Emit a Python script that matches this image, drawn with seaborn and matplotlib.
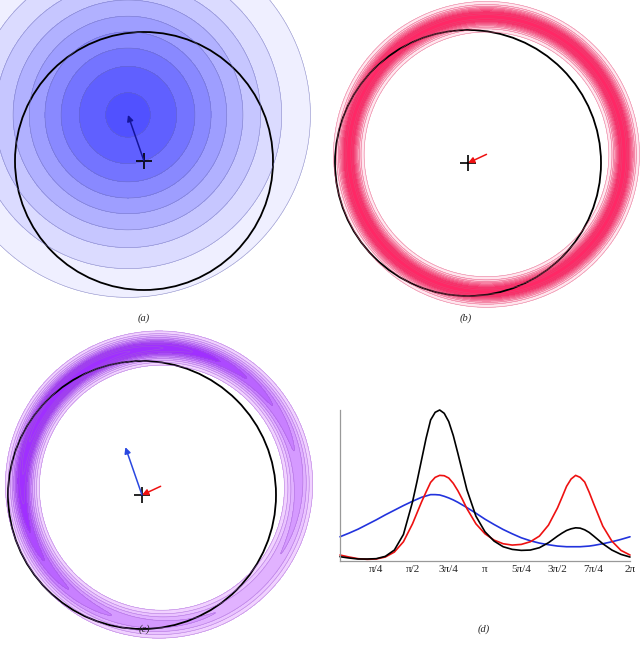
import numpy as np
import pandas as pd
import seaborn as sns
import matplotlib.pyplot as plt
from matplotlib.colors import LinearSegmentedColormap
from matplotlib.patches import Circle

# geometry, in units of the black circle radius, cross at the origin
circle_radius = 1.0
prior_center = (-0.124, 0.357)
prior_sigma = 0.70
prior_levels = [0.13, 0.235, 0.34, 0.445, 0.55, 0.655, 0.76, 0.865, 0.97]
ring_center = (0.139, 0.065)
ring_radius = 1.035
ring_sigma = 0.047
ring_levels = [0.05, 0.15, 0.25, 0.35, 0.45, 0.55, 0.65, 0.75, 0.85, 0.95]
post_levels = [0.02, 0.06, 0.12, 0.2, 0.3, 0.4, 0.5, 0.6, 0.7, 0.8, 0.9]

# panel (d): curves read at theta = k*pi/16
k_pos = [0, 1, 2, 3, 4, 5, 6, 7, 8, 8.5, 9, 9.5, 10, 10.5, 11, 11.5, 12, 12.5, 13, 13.5, 14,
         15, 16, 17, 18, 19, 20, 21, 22, 23, 24, 24.5, 25, 25.5, 26, 26.5, 27, 27.5, 28,
         29, 30, 31, 32]
prior_curve = [73, 84, 96, 110, 124, 139, 153, 167, 180, 186, 192, 196, 200, 200, 199, 195, 190,
               184, 177, 169, 161, 144, 126, 110, 95, 82, 70, 61, 54, 49, 45, 44, 43, 43, 43,
               43, 44, 45, 47, 52, 58, 65, 73]
lik_curve = [18, 12, 7, 5, 6, 12, 27, 58, 112, 145, 178, 208, 237, 252, 258, 257, 250,
             234, 212, 186, 158, 112, 82, 63, 52, 48, 50, 58, 75, 108, 160, 192, 225, 247, 258,
             252, 238, 207, 172, 105, 60, 32, 18]
post_curve = [13, 9, 6, 6, 7, 14, 33, 80, 178, 240, 305, 370, 425, 448, 455, 445, 420,
              378, 325, 270, 215, 135, 88, 60, 43, 35, 32, 33, 40, 55, 75, 84, 92, 97, 100,
              99, 94, 86, 75, 52, 33, 20, 12]
tick_labels = ["π/4", "π/2", "3π/4", "π", "5π/4", "3π/2", "7π/4", "2π"]

sns.set_style("white")
W, H = 640, 651
fig = plt.figure(figsize=(W / 100, H / 100), dpi=100)


def px_axes(x0, y0, x1, y1):
    return fig.add_axes([x0 / W, 1 - y1 / H, (x1 - x0) / W, (y1 - y0) / H])


def prior(X, Y):
    return np.exp(-((X - prior_center[0]) ** 2 + (Y - prior_center[1]) ** 2) / (2 * prior_sigma ** 2))


def likelihood(X, Y):
    d = np.hypot(X - ring_center[0], Y - ring_center[1])
    return np.exp(-(d - ring_radius) ** 2 / (2 * ring_sigma ** 2))


def draw_field(ax, xlim, ylim, Z, X, Y, levels, lo, hi, line_color, vmin, vmax):
    cmap = LinearSegmentedColormap.from_list("c", [lo, hi])
    ax.contourf(X, Y, Z, levels=list(levels) + [1.01], cmap=cmap, vmin=vmin, vmax=vmax)
    ax.contour(X, Y, Z, levels=levels, colors=line_color, linewidths=0.4, alpha=0.7)
    ax.add_patch(Circle((0, 0), circle_radius, fill=False, color="black", lw=1.3))
    ax.set_xlim(*xlim)
    ax.set_ylim(*ylim)
    ax.axis("off")


def grid(xlim, ylim):
    return np.meshgrid(np.linspace(xlim[0], xlim[1], 700), np.linspace(ylim[0], ylim[1], 700))


def arrow(ax, start, end, color):
    ax.annotate("", xy=end, xytext=start,
                arrowprops=dict(arrowstyle="-|>", color=color, lw=1.1, mutation_scale=9,
                                shrinkA=0, shrinkB=0))


def cross(ax):
    ax.plot(0, 0, marker="+", ms=11, mew=1.2, color="black")


# (a) prior
xa, ya = (-144 / 129, 176 / 129), (-144 / 129, 161 / 129)
axa = px_axes(0, 0, 320, 305)
X, Y = grid(xa, ya)
draw_field(axa, xa, ya, prior(X, Y), X, Y, prior_levels, "white", "#5050FF", "#6a6ab0", 0.1, 1.0)
arrow(axa, (0, 0), prior_center, "#15159a")
cross(axa)

# (b) likelihood
xb, yb = (-138 / 133, 172 / 133), (-147 / 133, 163 / 133)
axb = px_axes(330, 0, 640, 310)
X, Y = grid(xb, yb)
draw_field(axb, xb, yb, likelihood(X, Y), X, Y, ring_levels, "#FFE6EE", "#FF2866", "#e0507a", 0.1, 0.8)
arrow(axb, ring_center, (0, 0), "#ee1111")
cross(axb)

# (c) posterior
xc, yc = (-142 / 134, 173 / 134), (-145 / 134, 167 / 134)
axc = px_axes(0, 328, 315, 640)
X, Y = grid(xc, yc)
Zc = prior(X, Y) * likelihood(X, Y)
Zc = Zc / Zc.max()
draw_field(axc, xc, yc, Zc, X, Y, post_levels, "#F6DCFF", "#A030FF", "#a060d0", 0.0, 0.65)
arrow(axc, (0, 0), prior_center, "#2a48e0")
arrow(axc, ring_center, (0, 0), "#ee1111")
cross(axc)

# (d) curves on the circle
axd = px_axes(340, 410, 630, 561)
df = pd.DataFrame({"theta": np.array(k_pos) * np.pi / 16, "prior": prior_curve,
                   "likelihood": lik_curve, "posterior": post_curve})
long = df.melt(id_vars="theta", var_name="curve", value_name="value")
sns.lineplot(data=long, x="theta", y="value", hue="curve",
             hue_order=["prior", "likelihood", "posterior"],
             palette={"prior": "#2233dd", "likelihood": "#ee1111", "posterior": "black"},
             lw=1.2, legend=False, ax=axd)
axd.set_xlim(0, 2 * np.pi)
axd.set_ylim(0, max(post_curve))
axd.set_xticks(np.pi / 4 * np.arange(1, 9))
axd.set_xticklabels(tick_labels, family="Liberation Serif", fontsize=8)
axd.set_yticks([])
axd.set_xlabel("")
axd.set_ylabel("")
axd.tick_params(axis="x", direction="in", length=3, color="#999999", pad=3)
for s in ["top", "right"]:
    axd.spines[s].set_visible(False)
for s in ["left", "bottom"]:
    axd.spines[s].set_color("#999999")
    axd.spines[s].set_linewidth(0.9)
for line in axd.lines:
    line.set_clip_on(False)

for lab, x, y in [("(a)", 144, 318), ("(b)", 466, 318), ("(c)", 144, 629), ("(d)", 484, 629)]:
    fig.text(x / W, 1 - y / H, lab, ha="center", va="center", style="italic",
             family="Liberation Serif", fontsize=7.5)

fig.savefig("out.png", dpi=100)
